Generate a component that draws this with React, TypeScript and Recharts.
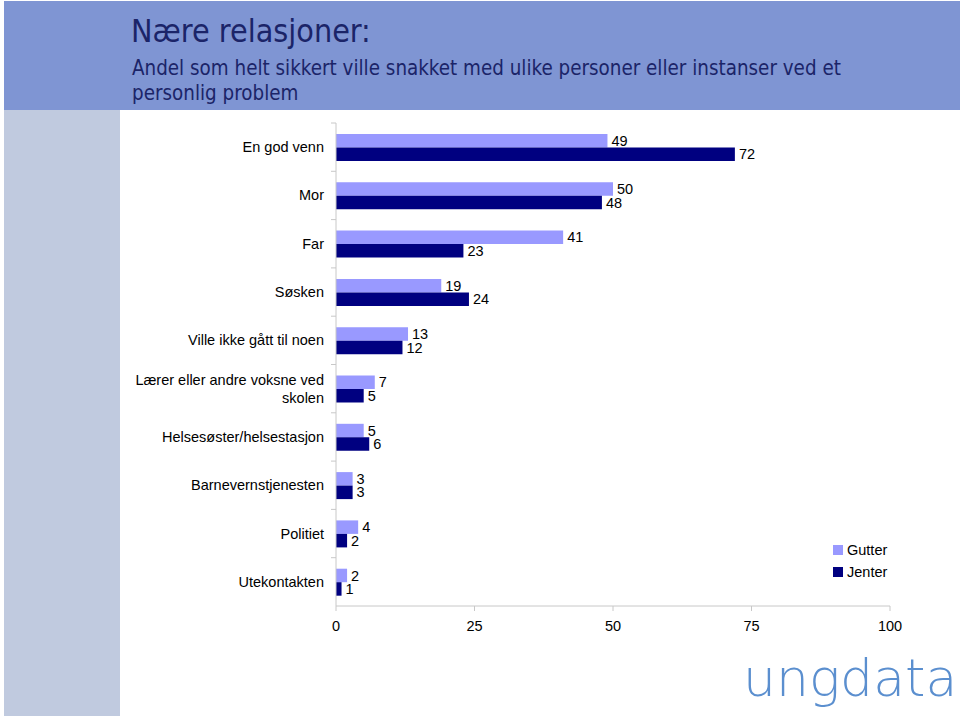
import React from "react"
import { Bar, BarChart, LabelList, XAxis, YAxis } from "recharts"

const categories = [
  "En god venn",
  "Mor",
  "Far",
  "Søsken",
  "Ville ikke gått til noen",
  "Lærer eller andre voksne ved skolen",
  "Helsesøster/helsestasjon",
  "Barnevernstjenesten",
  "Politiet",
  "Utekontakten",
]
const gutter = [49, 50, 41, 19, 13, 7, 5, 3, 4, 2]
const jenter = [72, 48, 23, 24, 12, 5, 6, 3, 2, 1]
const xTicks = [0, 25, 50, 75, 100]

const data = categories.map((name, i) => ({ name, gutter: gutter[i], jenter: jenter[i] }))

const PLOT_TOP = 123
const PLOT_BOTTOM = 606
const BAND = (PLOT_BOTTOM - PLOT_TOP) / categories.length
const font = "'Liberation Sans', Arial, sans-serif"
const headFont = "'DejaVu Sans Condensed', 'DejaVu Sans', Tahoma, sans-serif"

function wrap(text: string, max: number) {
  const words = text.split(" ")
  const lines: string[] = []
  let cur = ""
  for (const w of words) {
    if (cur && (cur + " " + w).length > max) {
      lines.push(cur)
      cur = w
    } else {
      cur = cur ? cur + " " + w : w
    }
  }
  if (cur) lines.push(cur)
  return lines
}

// tick x arrives as axis x minus tickSize + tickMargin (8px)
function CategoryTick(props: any) {
  const { x, y, payload } = props
  const lines = wrap(payload.value, 30)
  const axisX = x + 8
  return (
    <g>
      <line x1={axisX - 5} x2={axisX} y1={y - BAND / 2} y2={y - BAND / 2} stroke="#c8c8c8" />
      <text x={axisX - 12} y={y} textAnchor="end" fontFamily={font} fontSize={14.5} fill="#000">
        {lines.map((l, i) => (
          <tspan key={i} x={axisX - 12} dy={i === 0 ? 5 - (lines.length - 1) * 9 : 18}>
            {l}
          </tspan>
        ))}
      </text>
    </g>
  )
}

export default function App() {
  return (
    <div style={{ position: "absolute", left: 0, top: 0, width: 960, height: 716, background: "#fff", overflow: "hidden" }}>
      <div style={{ position: "absolute", left: 4, top: 1, width: 956, height: 109, background: "#7f95d3" }} />
      <div style={{ position: "absolute", left: 4, top: 110, width: 116, height: 606, background: "#c0cadf" }} />
      <div style={{ position: "absolute", left: 131, top: 11, fontFamily: headFont, color: "#1b2468", fontSize: 32, lineHeight: "40px" }}>
        Nære relasjoner:
      </div>
      <div style={{ position: "absolute", left: 132, top: 56, width: 790, fontFamily: headFont, color: "#1b2468", fontSize: 20.4, lineHeight: "25px" }}>
        Andel som helt sikkert ville snakket med ulike personer eller instanser ved et personlig problem
      </div>

      <div style={{ position: "absolute", left: 0, top: 0 }}>
        <BarChart
          width={960}
          height={716}
          data={data}
          layout="vertical"
          barGap={0}
          barSize={13.5}
          margin={{ top: PLOT_TOP, right: 70, bottom: 716 - PLOT_BOTTOM - 30, left: 120 }}
        >
          <XAxis
            type="number"
            domain={[0, 100]}
            ticks={xTicks}
            height={30}
            stroke="#c8c8c8"
            tickSize={5}
            tick={{ fill: "#000", fontSize: 14.5, fontFamily: font }}
            tickMargin={10}
          />
          <YAxis
            type="category"
            dataKey="name"
            width={216}
            stroke="#c8c8c8"
            tickLine={false}
            tick={<CategoryTick />}
            interval={0}
          />
          <Bar dataKey="gutter" fill="#9999ff" isAnimationActive={false}>
            <LabelList dataKey="gutter" position="right" offset={4} fill="#000" fontSize={14.5} fontFamily={font} />
          </Bar>
          <Bar dataKey="jenter" fill="#000080" isAnimationActive={false}>
            <LabelList dataKey="jenter" position="right" offset={4} fill="#000" fontSize={14.5} fontFamily={font} />
          </Bar>
        </BarChart>
      </div>

      <div style={{ position: "absolute", left: 833, top: 539, fontFamily: font, fontSize: 14.5, color: "#000", lineHeight: "22px" }}>
        <div style={{ display: "flex", alignItems: "center" }}>
          <span style={{ width: 10, height: 10, background: "#9999ff", marginRight: 4, display: "inline-block" }} />
          Gutter
        </div>
        <div style={{ display: "flex", alignItems: "center" }}>
          <span style={{ width: 10, height: 10, background: "#000080", marginRight: 4, display: "inline-block" }} />
          Jenter
        </div>
      </div>

      <div style={{ position: "absolute", left: 743, top: 643, fontFamily: "'DejaVu Sans', sans-serif", fontWeight: 200, fontSize: 52, color: "#5b8fcf", letterSpacing: 0, lineHeight: "70px", whiteSpace: "nowrap" }}>
        ungdata
      </div>
    </div>
  )
}
